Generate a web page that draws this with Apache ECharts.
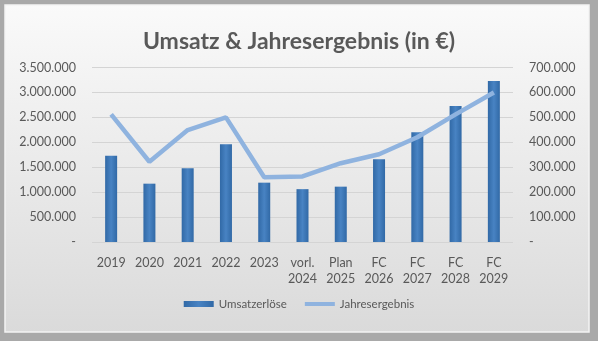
<!DOCTYPE html>
<html>
<head>
<meta charset="utf-8">
<script src="https://cdn.jsdelivr.net/npm/echarts@6/dist/echarts.min.js"></script>
<style>
  html, body { margin: 0; padding: 0; background: #a9a9a9; }
  #chart { width: 598px; height: 341px; }
</style>
</head>
<body>
<div id="chart"></div>
<script>
// Kategorien (Geschäftsjahre)
const categories = ['2019', '2020', '2021', '2022', '2023', 'vorl.\n2024', 'Plan\n2025', 'FC\n2026', 'FC\n2027', 'FC\n2028', 'FC\n2029'];
// Umsatzerlöse in €
const umsatz = [1730000, 1170000, 1480000, 1960000, 1190000, 1060000, 1110000, 1660000, 2200000, 2730000, 3230000];
// Jahresergebnis in €
const jahresergebnis = [512000, 322000, 449000, 500000, 260000, 263000, 316000, 352000, 420000, 512000, 600000];
// Achsenbereiche
const leftTicks = { min: 0, max: 3500000, interval: 500000 };
const rightTicks = { min: 0, max: 700000, interval: 100000 };

// Tausenderpunkte, Null als Strich
function fmt(v) {
  if (v === 0) return '-';
  return String(Math.round(v)).replace(/\B(?=(\d{3})+(?!\d))/g, '.');
}

const font = 'Lato, "Open Sans", sans-serif';
const textColor = '#595959';

const chart = echarts.init(document.getElementById('chart'), null, { renderer: 'canvas' });
chart.setOption({
  animation: false,
  backgroundColor: '#a9a9a9',
  graphic: [
    {
      type: 'rect',
      z: -10,
      shape: { x: 5, y: 5, width: 584, height: 327 },
      style: {
        fill: new echarts.graphic.LinearGradient(0, 0, 0, 1, [
          { offset: 0, color: '#fafafa' },
          { offset: 1, color: '#dadada' }
        ]),
        stroke: '#f4f4f4',
        lineWidth: 1.5
      }
    }
  ],
  title: {
    text: 'Umsatz & Jahresergebnis (in €)',
    left: 'center',
    top: 25,
    textStyle: { fontFamily: font, fontSize: 23, fontWeight: 'bold', color: textColor }
  },
  legend: {
    bottom: 26,
    left: 'center',
    itemGap: 18,
    itemWidth: 30,
    itemHeight: 6,
    symbolKeepAspect: true,
    textStyle: { fontFamily: font, fontSize: 11.5, color: textColor },
    data: [
      { name: 'Umsatzerlöse', icon: 'rect' },
      { name: 'Jahresergebnis', icon: 'path://M0,0 L30,0 L30,4 L0,4 Z', itemStyle: { color: '#8fb3df' } }
    ]
  },
  grid: { left: 92, right: 85, top: 67.5, bottom: 99 },
  xAxis: {
    type: 'category',
    data: categories,
    axisLine: { show: false },
    axisTick: { show: false },
    axisLabel: { fontFamily: font, fontSize: 12.5, color: textColor, margin: 13, lineHeight: 16 }
  },
  yAxis: [
    {
      type: 'value',
      min: leftTicks.min, max: leftTicks.max, interval: leftTicks.interval,
      axisLabel: { fontFamily: font, fontSize: 12.5, color: textColor, formatter: fmt, margin: 16 },
      splitLine: { lineStyle: { color: '#d4d4d4', width: 1 } },
      axisLine: { show: false }, axisTick: { show: false }
    },
    {
      type: 'value',
      min: rightTicks.min, max: rightTicks.max, interval: rightTicks.interval,
      axisLabel: { fontFamily: font, fontSize: 12.5, color: textColor, formatter: fmt, margin: 16 },
      splitLine: { show: false },
      axisLine: { show: false }, axisTick: { show: false }
    }
  ],
  series: [
    {
      name: 'Umsatzerlöse',
      type: 'bar',
      yAxisIndex: 0,
      data: umsatz,
      barWidth: 12,
      itemStyle: {
        color: new echarts.graphic.LinearGradient(0, 0, 1, 0, [
          { offset: 0, color: '#3169a6' },
          { offset: 0.5, color: '#4883c3' },
          { offset: 1, color: '#3169a6' }
        ])
      }
    },
    {
      name: 'Jahresergebnis',
      type: 'line',
      yAxisIndex: 1,
      data: jahresergebnis,
      symbol: 'none',
      lineStyle: { color: '#8fb3df', width: 4.5 },
      itemStyle: { color: '#8fb3df' },
      z: 3
    }
  ]
});
</script>
</body>
</html>
